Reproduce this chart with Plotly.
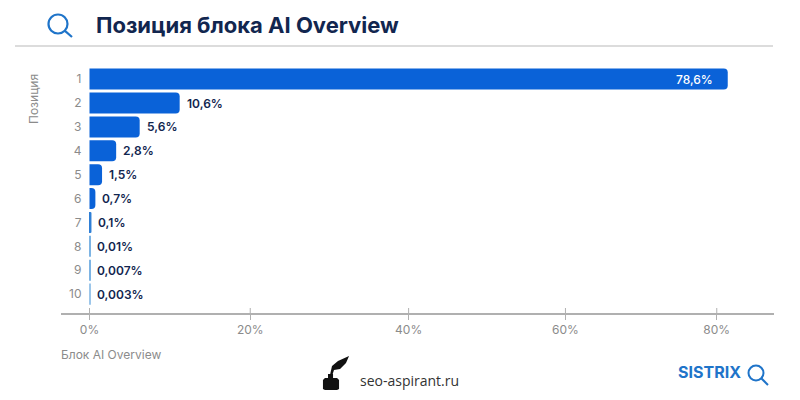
import plotly.graph_objects as go

positions = ["1", "2", "3", "4", "5", "6", "7", "8", "9", "10"]
# Bar lengths as read against the axis of the picture
bar_lengths = [81.4, 11.5, 6.4, 3.4, 1.6, 0.75, 0.25, 0.12, 0.12, 0.1]
# Printed labels, which the source shows independently of bar length
bar_labels = ["78,6%", "10,6%", "5,6%", "2,8%", "1,5%", "0,7%", "0,1%", "0,01%", "0,007%", "0,003%"]
bar_colors = ["#0a62d8"] * 6 + ["#2f7fd6", "#7db4e4", "#7db4e4", "#9cc6ea"]
# Tick positions as drawn in the picture (its spacing is slightly uneven)
tick_positions = [0, 20.5, 40.7, 60.7, 80]
tick_labels = ["0%", "20%", "40%", "60%", "80%"]

W, H = 800, 400
FONT = "Inter, Noto Sans, sans-serif"
NAVY = "#12264f"
GREY = "#8b8b8b"
BLUE = "#1f74c9"


def px(x):
    return x / W


def py(y):
    return 1 - y / H


def path(points):
    return "M" + " L".join(f"{px(x):.4f},{py(y):.4f}" for x, y in points) + " Z"


def paper_shape(**kw):
    return dict(xref="paper", yref="paper", **kw)


def magnifier(cx, cy, r, hx, hy, width):
    return [
        paper_shape(type="circle", x0=px(cx - r), x1=px(cx + r), y0=py(cy + r), y1=py(cy - r),
                    line=dict(color=BLUE, width=width)),
        paper_shape(type="line", x0=px(cx + r * 0.7), y0=py(cy + r * 0.7), x1=px(hx), y1=py(hy),
                    line=dict(color=BLUE, width=width)),
    ]


fig = go.Figure(go.Bar(
    y=positions, x=bar_lengths, orientation="h", width=0.88,
    marker=dict(color=bar_colors, line=dict(width=0)),
    hoverinfo="skip",
))

annotations = []
for i, (value, label) in enumerate(zip(bar_lengths, bar_labels)):
    first = i == 0
    annotations.append(dict(
        x=value, y=i, xref="x", yref="y", text=label, showarrow=False,
        xanchor="right" if first else "left", xshift=-13 if first else 5,
        font=dict(family=FONT, size=12, color="#ffffff" if first else NAVY,
                  weight=500 if first else 600),
    ))


def text(x, y, s, size, color, anchor="left", weight=400, family=FONT, angle=0):
    annotations.append(dict(
        x=px(x), y=py(y), xref="paper", yref="paper", text=s, showarrow=False,
        xanchor=anchor, yanchor="middle", textangle=angle,
        font=dict(family=family, size=size, color=color, weight=weight),
    ))


text(94, 25, "Позиция блока AI Overview", 22, NAVY, weight=700)
text(33, 99, "Позиция", 12, GREY, anchor="center", angle=-90)
text(59, 354, "Блок AI Overview", 12, GREY)
text(358, 380, "seo-aspirant.ru", 14, "#333333", family="Open Sans, sans-serif")
text(743, 372, "SISTRIX", 16, BLUE, anchor="right", weight=700)

shapes = []
shapes += magnifier(58, 24, 9.5, 72, 37, 2.2)
shapes += magnifier(756, 373, 7.5, 768, 385, 2)
shapes.append(paper_shape(type="line", x0=px(15), x1=px(773), y0=py(46), y1=py(46),
                          line=dict(color="#b9b9b9", width=1)))
for t in tick_positions:
    shapes.append(dict(type="line", xref="x", yref="paper", x0=t, x1=t, y0=py(313), y1=py(308),
                       line=dict(color="#b0b0b0", width=1)))
# Inkwell and quill logo
shapes.append(paper_shape(type="path", fillcolor="#111111", line=dict(width=0),
                          path=path([(323, 380), (325, 378), (328, 378), (328, 374), (333, 374),
                                     (333, 378), (337, 378), (339, 380), (339, 389), (337, 390),
                                     (325, 390), (323, 389)])))
shapes.append(paper_shape(type="path", fillcolor="#111111", line=dict(width=0),
                          path=path([(330, 375), (332, 366), (338, 361), (349, 356), (346, 363),
                                     (340, 369), (334, 370), (332, 376)])))

fig.update_layout(
    width=W, height=H, margin=dict(l=0, r=0, t=0, b=0),
    paper_bgcolor="#ffffff", plot_bgcolor="#ffffff",
    showlegend=False, barcornerradius=4,
    annotations=annotations, shapes=shapes,
    xaxis=dict(
        domain=[px(61), px(774)], range=[-3.635, 87.3], fixedrange=True,
        tickmode="array", tickvals=tick_positions, ticktext=tick_labels,
        ticks="outside", ticklen=5, tickcolor="#b0b0b0", tickwidth=1,
        showgrid=False, zeroline=False, showline=True, linecolor="#b0b0b0", linewidth=1.5,
        tickfont=dict(family=FONT, size=12, color=GREY),
    ),
    yaxis=dict(
        domain=[py(313), py(60)], range=[9.79, -0.8], type="category",
        anchor="free", position=px(89.5), fixedrange=True,
        showgrid=False, zeroline=False, showline=False, ticks="",
        ticklabelstandoff=8,
        tickfont=dict(family=FONT, size=12, color=GREY),
    ),
)

fig.write_html("out.html", post_script="document.body.style.margin='0';",
               config={"displayModeBar": False})
